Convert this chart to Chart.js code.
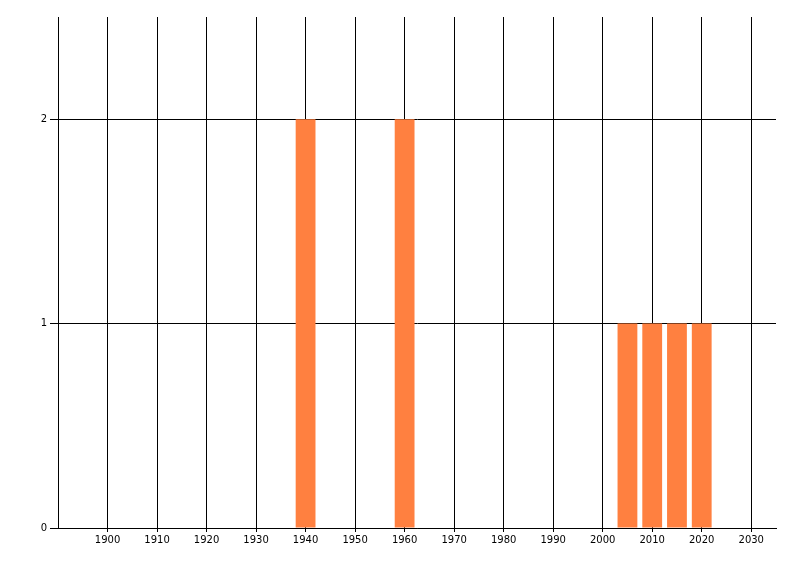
<!DOCTYPE html>
<html lang="en">
<head>
    <meta charset="UTF-8">
    <title>Counts by year</title>
    <script src="https://cdn.jsdelivr.net/npm/chart.js"></script>
    <style>
        html, body {
            margin: 0;
            padding: 0;
            background-color: #FFFFFF;
        }
        #wrap {
            width: 800px;
            height: 576px;
        }
    </style>
</head>
<body>
    <div id="wrap"><canvas id="myChart" width="800" height="576"></canvas></div>

    <script>
        var years = [1940, 1960, 2005, 2010, 2015, 2020];
        var counts = [2, 2, 1, 1, 1, 1];
        var xMin = 1890, xMax = 2035, xStep = 10;
        var yMin = 0, yMax = 2.5, yStep = 1;

        var ctx = document.getElementById('myChart').getContext('2d');

        var myChart = new Chart(ctx, {
            type: 'bar',
            data: {
                datasets: [{
                    data: years.map(function(y, i) { return { x: y, y: counts[i] }; }),
                    backgroundColor: '#FF8040',
                    borderWidth: 0,
                    borderSkipped: false,
                    inflateAmount: 0,
                    categoryPercentage: 1,
                    barPercentage: 0.8
                }]
            },
            options: {
                responsive: false,
                animation: false,
                layout: {
                    padding: { top: 17, right: 24, left: 0, bottom: 0 }
                },
                scales: {
                    x: {
                        type: 'linear',
                        min: xMin,
                        max: xMax,
                        offset: false,
                        afterBuildTicks: function(scale) {
                            var t = [];
                            for (var v = xMin; v <= xMax; v += xStep) t.push({ value: v });
                            scale.ticks = t;
                        },
                        afterFit: function(scale) { scale.height = 48; },
                        ticks: {
                            color: '#000000',
                            font: { family: 'DejaVu Sans', size: 10 },
                            padding: 2,
                            maxRotation: 0,
                            autoSkip: false,
                            callback: function(value) {
                                return value === xMin ? '' : String(value); // no label at the axis origin
                            }
                        },
                        grid: {
                            offset: false,
                            color: '#000000',
                            lineWidth: 1,
                            tickLength: 4,
                            tickColor: function(context) {
                                return context.tick && context.tick.value === xMin ? 'rgba(0,0,0,0)' : '#000000';
                            }
                        },
                        border: { color: '#000000', width: 1 }
                    },
                    y: {
                        min: yMin,
                        max: yMax,
                        afterBuildTicks: function(scale) {
                            var t = [];
                            for (var v = yMin; v <= yMax; v += yStep) t.push({ value: v });
                            scale.ticks = t;
                        },
                        afterFit: function(scale) { scale.width = 58; },
                        ticks: {
                            color: '#000000',
                            font: { family: 'DejaVu Sans', size: 10 },
                            padding: 3
                        },
                        grid: {
                            color: '#000000',
                            lineWidth: 1,
                            tickLength: 8
                        },
                        border: { color: '#000000', width: 1 }
                    }
                },
                plugins: {
                    legend: { display: false },
                    tooltip: { enabled: false }
                }
            }
        });
    </script>
</body>
</html>
